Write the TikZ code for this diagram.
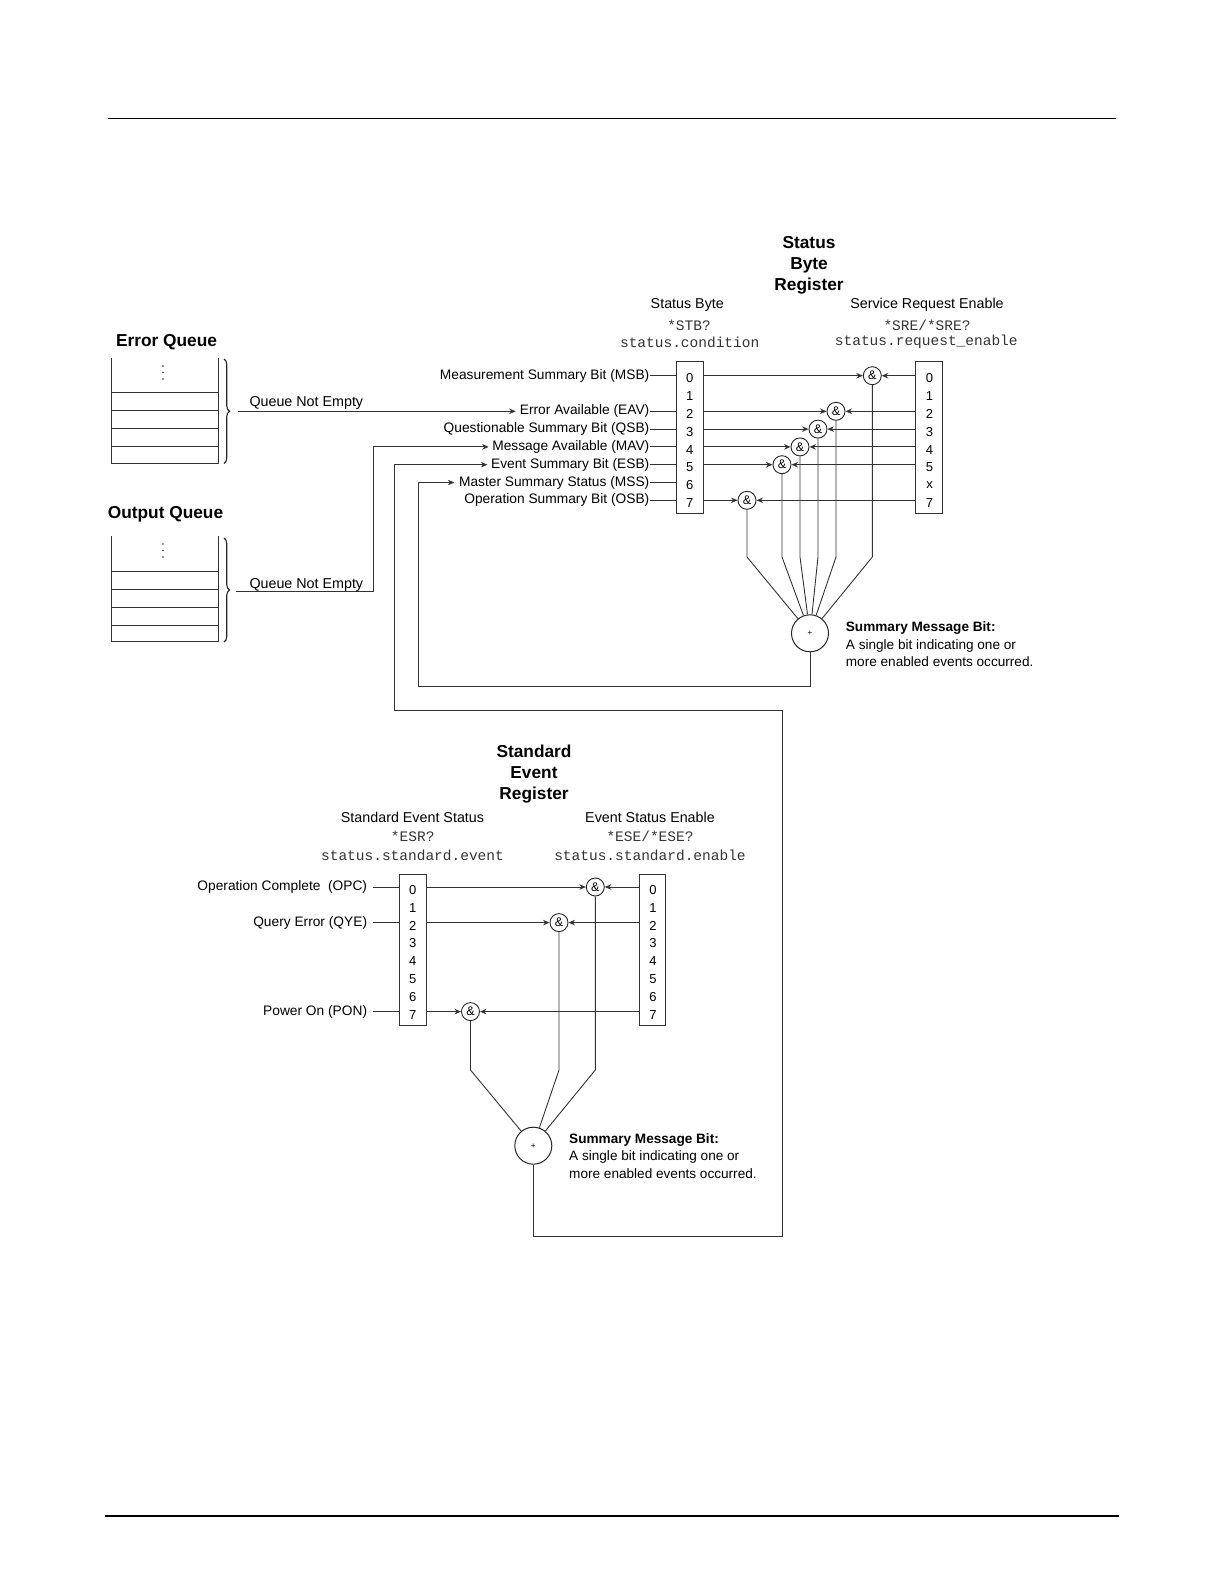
\documentclass[tikz,border=0pt]{standalone}
\usepackage{fontspec}
\setmainfont{Liberation Sans}
\setmonofont{Liberation Mono}
\usetikzlibrary{arrows.meta,positioning,decorations.pathreplacing}

\tikzset{
  wire/.style={draw=black!80,line width=0.9pt},
  feed/.style={wire,-{Stealth[length=6.5pt,width=5.5pt]}},
  gate/.style={circle,draw=black!85,line width=0.9pt,minimum size=18pt,inner sep=0pt,font=\fontsize{12.5}{12.5}\selectfont},
  summer/.style={circle,draw=black!85,line width=1pt,minimum size=37pt,inner sep=0pt,font=\fontsize{8}{8}\selectfont},
  regbox/.style={rectangle,draw=black!80,line width=0.9pt,minimum width=26.6pt,minimum height=151.5pt,inner sep=0pt},
  bitno/.style={font=\fontsize{13}{13}\selectfont,inner sep=0pt},
  sig/.style={font=\fontsize{13.75}{16}\selectfont,inner sep=0pt,anchor=east},
  head/.style={font=\fontsize{14.3}{16}\selectfont,inner sep=0pt},
  cmd/.style={font=\ttfamily\fontsize{14.5}{16}\selectfont,inner sep=0pt,text=black!80},
  regtitle/.style={font=\bfseries\fontsize{17.3}{21}\selectfont,align=center,inner sep=0pt},
  note/.style={font=\fontsize{13.6}{17.5}\selectfont,align=left,anchor=west,inner sep=0pt},
  queue/.style={draw=black!80,line width=0.9pt},
  qbrace/.style={draw=black!85,line width=1.1pt,decorate,decoration={brace,amplitude=5.5pt}},
}

\begin{document}
\begin{tikzpicture}[x=1pt,y=-1pt]
    \useasboundingbox (0,0) rectangle (1224,1584);

    % page rules
    \draw[line width=1pt] (108,118.3) -- (1116,118.3);
    \draw[line width=2pt] (105,1515.7) -- (1119,1515.7);

    % error and output queues
    \node[regtitle] (errq) at (166.5,342) {Error Queue};
    \draw[queue] (111.7,358) -- (111.7,463.3) -- (218.3,463.3) -- (218.3,358);
    \foreach \qy in {392.7,410,428.3,446} \draw[queue] (111.7,\qy) -- (218.3,\qy);
    \foreach \dy in {366,372.5,379} \fill[black!80] (163,\dy) circle (0.8);
    \draw[qbrace] (224,359) -- (224,463.5);
    \coordinate (errout) at (238,411.3);
    \node[head,anchor=base west] (errne) at (249.3,406.5) {Queue Not Empty};

    \node[regtitle] (outq) at (165.5,514) {Output Queue};
    \draw[queue] (111.7,536) -- (111.7,641.7) -- (218.3,641.7) -- (218.3,536);
    \foreach \qy in {571.7,589.3,607.3,625} \draw[queue] (111.7,\qy) -- (218.3,\qy);
    \foreach \dy in {544,550.5,557} \fill[black!80] (163,\dy) circle (0.8);
    \draw[qbrace] (224,538) -- (224,642);
    \coordinate (outout) at (236,591.7);
    \node[head,anchor=base west] (outne) at (249.3,588.5) {Queue Not Empty};

    % status byte register
    \node[regtitle] (sbrtitle) at (809,265) {Status\\Byte\\Register};
    \node[head] (sbhead) at (687.3,305) {Status Byte};
    \node[cmd] (sbcmd) at (689,325) {*STB?};
    \node[cmd] (sbcmd2) at (689.7,342) {status.condition};
    \node[head] (srehead) at (927,305) {Service Request Enable};
    \node[cmd] (srecmd) at (927,325) {*SRE/*SRE?};
    \node[cmd] (srecmd2) at (926.3,342) {status.request\_enable};

    \node[regbox] (sb) at (689.7,437.5) {};
    \node[regbox] (sre) at (929,437.5) {};
    \foreach \b [count=\i from 0] in {0,1,2,3,4,5,6,7}
        \node[bitno] at (689.7,{378.4+17.8*\i}) {\b};
    \foreach \b [count=\i from 0] in {0,1,2,3,4,5,x,7}
        \node[bitno] at (929.5,{378.4+17.8*\i}) {\b};

    \foreach \i/\nm/\txt in {0/msb/Measurement Summary Bit (MSB),
                             2/eav/Error Available (EAV),
                             3/qsb/Questionable Summary Bit (QSB),
                             4/mav/Message Available (MAV),
                             5/esb/Event Summary Bit (ESB),
                             6/mss/Master Summary Status (MSS),
                             7/osb/Operation Summary Bit (OSB)}{
        \node[sig] (\nm) at (649.5,{375.7+17.8*\i}) {\txt};
        \draw[wire] (\nm.east) -- (\nm.east -| sb.west);
    }

    % summary of status byte
    \node[summer] (sum) at (810,633.3) {+};
    \foreach \i/\gx in {0/872.3,2/836,3/818,4/800,5/782,7/747}{
        \node[gate] (and\i) at (\gx,{375.7+17.8*\i}) {\&};
        \draw[feed] (sb.east |- and\i) -- (and\i);
        \draw[feed] (sre.west |- and\i) -- (and\i);
        \draw[wire] (and\i) -- (\gx,557) -- (sum);
    }
    \node[note] (sumnote) at (845.7,644.3) {\textbf{Summary Message Bit:}\\A single bit indicating one or\\more enabled events occurred.};

    % queue outputs into the status byte
    \draw[feed] (errout) -- ([xshift=-4pt]eav.west);
    \draw[feed] (outout) -- (373.3,591.7) |- ([xshift=-3.5pt]mav.west);
    \draw[feed] (sum) |- (418.3,686) |- ([xshift=-4.5pt]mss.west);

    % standard event register
    \node[regtitle] (sertitle) at (534,774) {Standard\\Event\\Register};
    \node[head] (seshead) at (412.5,817.7) {Standard Event Status};
    \node[cmd] (sescmd) at (412.7,836.7) {*ESR?};
    \node[cmd] (sescmd2) at (412.5,855) {status.standard.event};
    \node[head] (esehead) at (650,817.7) {Event Status Enable};
    \node[cmd] (esecmd) at (650,836.7) {*ESE/*ESE?};
    \node[cmd] (esecmd2) at (650,855) {status.standard.enable};

    \node[regbox] (ses) at (412.8,949.8) {};
    \node[regbox] (ese) at (652.3,949.8) {};
    \foreach \b [count=\i from 0] in {0,1,2,3,4,5,6,7}{
        \node[bitno] at (412.7,{890+17.8*\i}) {\b};
        \node[bitno] at (653,{890+17.8*\i}) {\b};
    }

    \foreach \i/\nm/\txt in {0/opc/Operation Complete\ \ (OPC),
                             2/qye/Query Error (QYE),
                             7/pon/Power On (PON)}{
        \node[sig] (\nm) at (367.3,{887+17.8*\i}) {\txt};
        \draw[wire] ([xshift=5.4pt]\nm.east) -- (\nm.east -| ses.west);
    }

    \node[summer] (sum2) at (533.3,1145.7) {+};
    \foreach \i/\gx in {0/595.3,2/559,7/470.5}{
        \node[gate] (sand\i) at (\gx,{887+17.8*\i}) {\&};
        \draw[feed] (ses.east |- sand\i) -- (sand\i);
        \draw[feed] (ese.west |- sand\i) -- (sand\i);
        \draw[wire] (sand\i) -- (\gx,1070) -- (sum2);
    }
    \node[note] (sum2note) at (569,1156) {\textbf{Summary Message Bit:}\\A single bit indicating one or\\more enabled events occurred.};

    % event summary loop back to the status byte
    \draw[feed] (sum2) |- (782.3,1236) |- (394.3,710) |- ([xshift=-3.5pt]esb.west);
\end{tikzpicture}
\end{document}
